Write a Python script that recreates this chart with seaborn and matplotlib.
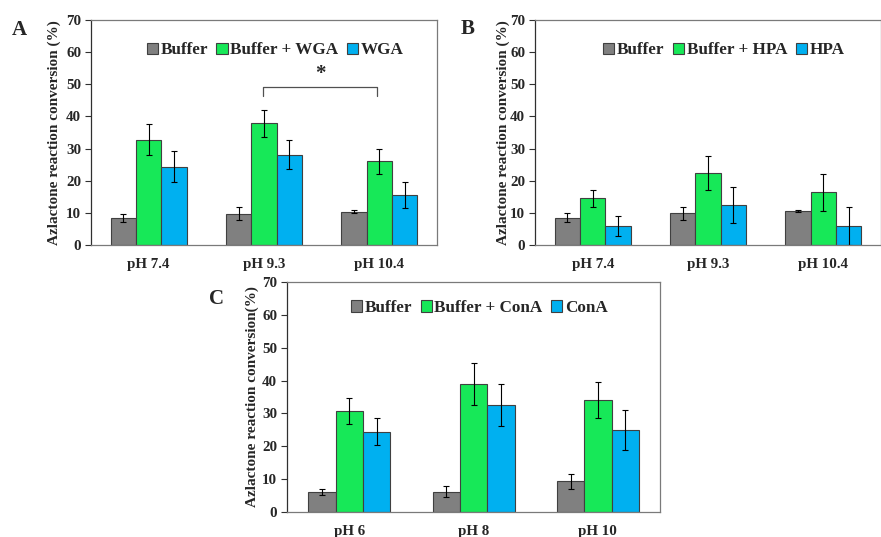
import numpy as np
import pandas as pd
import seaborn as sns
import matplotlib.pyplot as plt
from matplotlib.patches import Patch

# Panel data
ph_a = ["pH 7.4", "pH 9.3", "pH 10.4"]
series_a = ["Buffer", "Buffer + WGA", "WGA"]
mean_a = [[8.4, 9.7, 10.4], [32.8, 37.9, 26.0], [24.4, 28.1, 15.5]]
err_a = [[1.3, 2.0, 0.5], [4.7, 4.2, 4.0], [4.8, 4.6, 4.0]]

ph_b = ["pH 7.4", "pH 9.3", "pH 10.4"]
series_b = ["Buffer", "Buffer + HPA", "HPA"]
mean_b = [[8.4, 9.9, 10.5], [14.5, 22.4, 16.4], [5.9, 12.4, 5.9]]
err_b = [[1.4, 2.0, 0.3], [2.7, 5.2, 5.8], [3.0, 5.6, 5.9]]

ph_c = ["pH 6", "pH 8", "pH 10"]
series_c = ["Buffer", "Buffer + ConA", "ConA"]
mean_c = [[6.2, 6.2, 9.4], [30.7, 38.9, 34.1], [24.4, 32.6, 25.0]]
err_c = [[0.9, 1.6, 2.3], [4.0, 6.4, 5.5], [4.1, 6.5, 6.0]]

colors = ["#808080", "#17E858", "#00B0F0"]

sns.set_style("white")
plt.rcParams['font.family'] = ['Liberation Serif', 'DejaVu Serif']
plt.rcParams['font.weight'] = 'bold'

fig = plt.figure(figsize=(8.81, 5.37), dpi=100)
ax_a = fig.add_axes([0.1033, 0.5438, 0.3927, 0.419])
ax_b = fig.add_axes([0.6073, 0.5438, 0.3927, 0.419])
ax_c = fig.add_axes([0.3258, 0.0466, 0.4234, 0.4283])


def draw_panel(ax, cats, series, means, errs, ylabel, ypad, letter, letter_xy, leg_xy):
    df = pd.DataFrame({
        'ph': [c for s in series for c in cats],
        'series': [s for s in series for c in cats],
        'value': [v for row in means for v in row],
    })
    sns.barplot(data=df, x='ph', y='value', hue='series', order=cats,
                hue_order=series, palette=colors, width=0.66, errorbar=None,
                edgecolor='#404040', linewidth=0.8, saturation=1, ax=ax,
                legend=False)
    # error bars at each bar centre
    for patch, e, v in zip(ax.patches, [x for row in errs for x in row],
                           [x for row in means for x in row]):
        xc = patch.get_x() + patch.get_width() / 2
        ax.errorbar(xc, v, yerr=e, fmt='none', ecolor='black',
                    elinewidth=0.8, capsize=2.5, capthick=0.8)
    ax.set_ylim(0, 70)
    ax.set_xlim(-0.5, 2.5)
    ax.set_yticks(range(0, 71, 10))
    ax.set_xlabel("")
    ax.set_ylabel(ylabel, fontsize=11, fontweight='bold', labelpad=ypad)
    ax.tick_params(axis='y', which='both', left=True, length=4, width=0.8,
                   labelsize=10.8, pad=3, color='#303030')
    ax.tick_params(axis='x', bottom=False, labelsize=10.8, pad=6)
    for lab in ax.get_xticklabels() + ax.get_yticklabels():
        lab.set_fontweight('bold')
    for sp in ax.spines.values():
        sp.set_visible(True)
        sp.set_color('#7a7a7a')
        sp.set_linewidth(0.9)
    ax.spines['left'].set_color('#303030')
    handles = [Patch(facecolor=c, edgecolor='#404040', linewidth=0.8)
               for c in colors]
    ax.legend(handles, series, loc='center', bbox_to_anchor=leg_xy, ncol=3,
              frameon=False, handlelength=0.65, handleheight=0.65,
              handletextpad=0.15, columnspacing=0.5,
              prop={'size': 12.3, 'weight': 'bold'})
    ax.text(letter_xy[0], letter_xy[1], letter, transform=ax.transAxes,
            fontsize=15, fontweight='bold', ha='center', va='center')


draw_panel(ax_a, ph_a, series_a, mean_a, err_a,
           "Azlactone reaction conversion (%)", 4, "A", (-0.207, 0.956),
           (0.532, 0.865))
draw_panel(ax_b, ph_b, series_b, mean_b, err_b,
           "Azlactone reaction conversion (%)", 0, "B", (-0.194, 0.96),
           (0.546, 0.865))
draw_panel(ax_c, ph_c, series_c, mean_c, err_c,
           "Azlactone reaction conversion(%)", 2, "C", (-0.188, 0.926),
           (0.515, 0.887))

# significance bracket in panel A
ax_a.plot([0.99, 0.99, 1.98, 1.98], [46.4, 49.2, 49.2, 46.4], color='#505050',
          linewidth=0.9)
ax_a.text(1.485, 50.0, "*", ha='center', va='bottom', fontsize=15,
          fontweight='bold')

fig.savefig("out.png", dpi=100)
